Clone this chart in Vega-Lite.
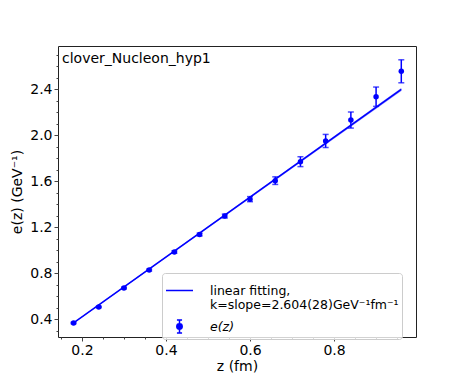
{
  "$schema": "https://vega.github.io/schema/vega-lite/v6.json",
  "autosize": {"type": "none"},
  "padding": {"left": 58, "top": 46, "right": 47, "bottom": 49},
  "width": 358,
  "height": 291,
  "background": "white",
  "config": {
    "font": "DejaVu Sans",
    "view": {"stroke": "#222", "strokeWidth": 1},
    "axis": {"grid": false, "domain": false, "tickColor": "#444", "labelColor": "black", "titleColor": "black", "labelFontSize": 14, "titleFontSize": 14, "titleFontWeight": "normal", "labelFont": "DejaVu Sans", "titleFont": "DejaVu Sans"}
  },
  "title": {"text": "clover_Nucleon_hyp1", "anchor": "start", "frame": "group", "orient": "top", "offset": -20, "dx": 4, "fontSize": 14, "fontWeight": "normal", "font": "DejaVu Sans", "color": "black"},
  "datasets": {
    "pts": [
      {"z": 0.18, "e": 0.368, "err": 0.006, "s": "e(z)"},
      {"z": 0.24, "e": 0.507, "err": 0.006, "s": "e(z)"},
      {"z": 0.30, "e": 0.672, "err": 0.007, "s": "e(z)"},
      {"z": 0.36, "e": 0.828, "err": 0.008, "s": "e(z)"},
      {"z": 0.42, "e": 0.985, "err": 0.010, "s": "e(z)"},
      {"z": 0.48, "e": 1.137, "err": 0.012, "s": "e(z)"},
      {"z": 0.54, "e": 1.298, "err": 0.017, "s": "e(z)"},
      {"z": 0.60, "e": 1.445, "err": 0.022, "s": "e(z)"},
      {"z": 0.66, "e": 1.606, "err": 0.033, "s": "e(z)"},
      {"z": 0.72, "e": 1.771, "err": 0.043, "s": "e(z)"},
      {"z": 0.78, "e": 1.951, "err": 0.057, "s": "e(z)"},
      {"z": 0.84, "e": 2.133, "err": 0.070, "s": "e(z)"},
      {"z": 0.90, "e": 2.336, "err": 0.084, "s": "e(z)"},
      {"z": 0.96, "e": 2.557, "err": 0.100, "s": "e(z)"}
    ],
    "fit": [
      {"z": 0.18, "f": 0.368, "lo": 0.364, "hi": 0.372, "s": "fit"},
      {"z": 0.96, "f": 2.399, "lo": 2.386, "hi": 2.412, "s": "fit"}
    ]
  },
  "layer": [
    {
      "data": {"name": "fit"},
      "mark": {"type": "area", "color": "blue", "opacity": 0.45},
      "encoding": {
        "x": {"field": "z", "type": "quantitative", "scale": {"domain": [0.143, 0.995], "nice": false, "zero": false},
              "axis": {"orient": "bottom", "title": "z (fm)", "values": [0.2, 0.4, 0.6, 0.8], "format": ".1f", "tickSize": 4, "labelPadding": 2, "titlePadding": 2}},
        "y": {"field": "lo", "type": "quantitative", "scale": {"domain": [0.246, 2.777], "nice": false, "zero": false},
              "axis": {"orient": "left", "title": "e(z) (GeV⁻¹)", "values": [0.4, 0.8, 1.2, 1.6, 2.0, 2.4], "format": ".1f", "tickSize": 4, "labelPadding": 2, "titlePadding": 5}},
        "y2": {"field": "hi"}
      }
    },
    {
      "data": {"name": "fit"},
      "mark": {"type": "point", "opacity": 0},
      "encoding": {
        "x": {"field": "z", "type": "quantitative", "axis": {"orient": "bottom", "values": [0.15, 0.25, 0.3, 0.35, 0.45, 0.5, 0.55, 0.65, 0.7, 0.75, 0.85, 0.9, 0.95], "labels": false, "title": null, "tickSize": 2}},
        "y": {"field": "f", "type": "quantitative", "axis": {"orient": "left", "values": [0.3, 0.5, 0.6, 0.7, 0.9, 1.0, 1.1, 1.3, 1.4, 1.5, 1.7, 1.8, 1.9, 2.1, 2.2, 2.3, 2.5, 2.6, 2.7], "labels": false, "title": null, "tickSize": 2}}
      }
    },
    {
      "data": {"name": "fit"},
      "mark": {"type": "line", "strokeWidth": 1.5},
      "encoding": {
        "x": {"field": "z", "type": "quantitative", "axis": null},
        "y": {"field": "f", "type": "quantitative", "axis": null},
        "color": {"field": "s", "type": "nominal",
          "scale": {"domain": ["fit", "e(z)"], "range": ["blue", "blue"]},
          "legend": {
            "orient": "none", "legendX": 104, "legendY": 227, "title": null,
            "labelExpr": "datum.value == 'fit' ? ['linear fitting,', '\u00a0k=slope=2.604(28)GeV⁻¹fm⁻¹'] : 'e(z)'",
            "labelFontSize": 12.5, "labelColor": "black", "labelFont": "DejaVu Sans", "labelLimit": 400,
            "symbolSize": 729, "symbolStrokeWidth": 1.5, "symbolStrokeColor": "blue", "symbolFillColor": "blue",
            "rowPadding": 0, "labelOffset": 16,
            "fillColor": "rgba(255,255,255,0.8)", "strokeColor": "#ccc", "cornerRadius": 3, "padding": 3,
            "encode": {
              "symbols": {"update": {
                "shape": {"signal": "datum.value == 'fit' ? 'stroke' : 'M0,-0.48L0,0.48M-0.19,-0.48L0.19,-0.48M-0.19,0.48L0.19,0.48M-0.2,0A0.2,0.2 0 1,0 0.2,0A0.2,0.2 0 1,0 -0.2,0Z'"},
                "fill": {"value": "blue"}, "stroke": {"value": "blue"}, "opacity": {"value": 1}, "fillOpacity": {"value": 1}
              }},
              "labels": {"update": {"fontStyle": {"signal": "datum.value == 'fit' ? 'normal' : 'italic'"}}}
            }
          }}
      }
    },
    {
      "data": {"name": "pts"},
      "mark": {"type": "errorbar", "ticks": {"size": 6, "color": "blue", "thickness": 1.5}, "rule": {"color": "blue", "strokeWidth": 1.5}},
      "encoding": {
        "x": {"field": "z", "type": "quantitative", "axis": null},
        "y": {"field": "e", "type": "quantitative", "axis": null},
        "yError": {"field": "err"}
      }
    },
    {
      "data": {"name": "pts"},
      "mark": {"type": "point", "filled": true, "size": 30, "opacity": 1},
      "encoding": {
        "x": {"field": "z", "type": "quantitative", "axis": null},
        "y": {"field": "e", "type": "quantitative", "axis": null},
        "color": {"field": "s", "type": "nominal"}
      }
    }
  ],
  "resolve": {"axis": {"x": "independent", "y": "independent"}}
}
